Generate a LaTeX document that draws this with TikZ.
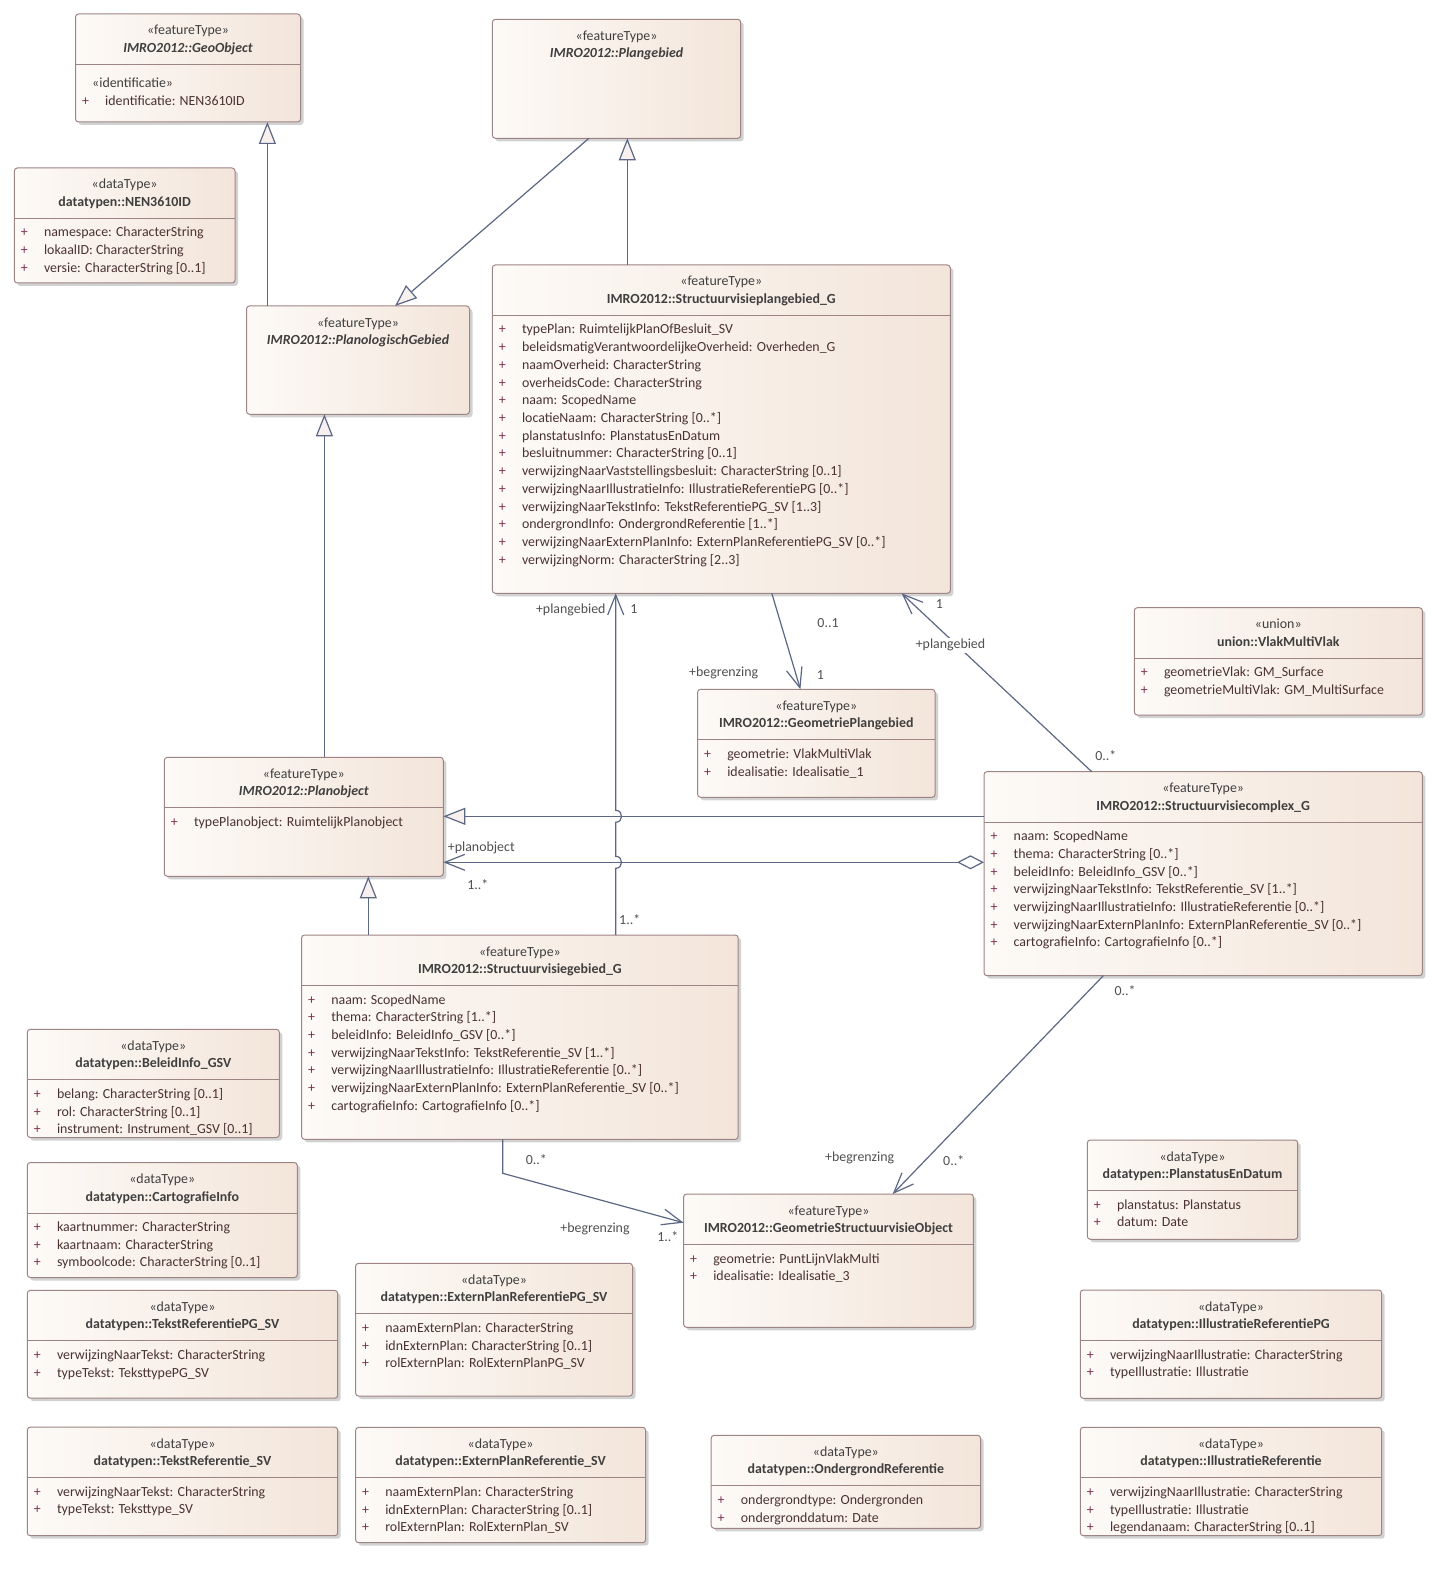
\documentclass[tikz,border=0pt]{standalone}
\usepackage{fontspec}
\setmainfont{Carlito}
\usetikzlibrary{arrows.meta,shadows,calc}
\definecolor{fillL}{HTML}{FDFAF7}
\definecolor{fillR}{HTML}{F3E5DA}
\definecolor{bordc}{HTML}{9E8585}
\definecolor{shadc}{HTML}{D2D2D2}
\definecolor{linec}{HTML}{5C6784}
\definecolor{txtc}{HTML}{3F3F3F}
\definecolor{attrc}{HTML}{4A3232}
\definecolor{plusc}{HTML}{7A3050}
\definecolor{lblc}{HTML}{505050}
\definecolor{genfill}{HTML}{F7F0EE}
\newcommand\fsz{\fontsize{13.9}{16}\selectfont}
\tikzset{
 umlbox/.style={draw=bordc, line width=1pt, rounded corners=3pt, left color=fillL, right color=fillR,
   drop shadow={shadow xshift=3pt, shadow yshift=-3pt, fill=shadc, opacity=1},
   inner sep=0pt, outer sep=0pt, anchor=north west},
 stereo/.style={inner sep=0pt, anchor=base, text=txtc, font=\fsz},
 ctitle/.style={inner sep=0pt, anchor=base, text=txtc, font=\fsz\bfseries},
 atitle/.style={inner sep=0pt, anchor=base, text=txtc, font=\fsz\bfseries\itshape},
 plusn/.style={inner sep=0pt, anchor=base, text=plusc, font=\fsz},
 attrn/.style={inner sep=0pt, anchor=base west, text=attrc, font=\fsz},
 divl/.style={draw=bordc, line width=1pt},
 conn/.style={draw=linec, line width=1.2pt},
 gen/.style={conn, -{Triangle[length=22pt,width=17pt,fill=genfill]}},
 nav/.style={conn, -{Straight Barb[length=20pt,width=16pt]}},
 lbl/.style={inner sep=0pt, anchor=base, text=lblc, font=\fsz},
}
\newcommand\umlclass[8]{%
  \node[umlbox, minimum width=#4pt-#2pt, minimum height=#5pt-#3pt] (#1) at (#2,#3) {};
  \node[stereo] (#1-st) at ({(#2+#4)/2},{#3+21}) {#6};
  \node[#8] (#1-ti) at ({(#2+#4)/2},{#3+38.5}) {#7};
}
\newcommand\umldiv[1]{\draw[divl] ([yshift=-50.5pt]#1.north west) -- ([yshift=-50.5pt]#1.north east);}
\newcommand\umlattrs[2]{%
  \foreach \atxt [count=\nn] in {#2} {
    \node[plusn] (#1-p\nn) at ([xshift=10pt,yshift=-69pt-17.7pt*\nn+17.7pt]#1.north west) {+};
    \node[attrn] (#1-a\nn) at ([xshift=29.5pt,yshift=-69pt-17.7pt*\nn+17.7pt]#1.north west) {\atxt};
  }
}
\begin{document}
\begin{tikzpicture}[x=1pt,y=-1pt]
\fill[white] (0,0) rectangle (1440,1586);
\useasboundingbox (0,0) rectangle (1440,1586);

% ---------- classes ----------
\umlclass{geo}{75.5}{14}{300.5}{122}{«featureType»}{IMRO2012::GeoObject}{atitle}
\umldiv{geo}
\node[stereo, anchor=base west] (geo-ist) at (92,87.5) {«identificatie»};
\node[plusn] (geo-p1) at (85.5,105.5) {+};
\node[attrn] (geo-a1) at (105,105.5) {identificatie: NEN3610ID};

\umlclass{nen}{14.3}{168}{235}{283}{«dataType»}{datatypen::NEN3610ID}{ctitle}
\umldiv{nen}
\umlattrs{nen}{{namespace: CharacterString},{lokaalID: CharacterString},{versie: CharacterString [0..1]}}

\umlclass{plg}{492.4}{19.3}{740.7}{138.3}{«featureType»}{IMRO2012::Plangebied}{atitle}
\umlclass{pgeb}{246.5}{306}{469.5}{414.3}{«featureType»}{IMRO2012::PlanologischGebied}{atitle}

\umlclass{svpg}{492.3}{265}{950.3}{593.3}{«featureType»}{IMRO2012::Structuurvisieplangebied\_G}{ctitle}
\umldiv{svpg}
\umlattrs{svpg}{{typePlan: RuimtelijkPlanOfBesluit\_SV},{beleidsmatigVerantwoordelijkeOverheid: Overheden\_G},{naamOverheid: CharacterString},{overheidsCode: CharacterString},{naam: ScopedName},{locatieNaam: CharacterString [0..*]},{planstatusInfo: PlanstatusEnDatum},{besluitnummer: CharacterString [0..1]},{verwijzingNaarVaststellingsbesluit: CharacterString [0..1]},{verwijzingNaarIllustratieInfo: IllustratieReferentiePG [0..*]},{verwijzingNaarTekstInfo: TekstReferentiePG\_SV [1..3]},{ondergrondInfo: OndergrondReferentie [1..*]},{verwijzingNaarExternPlanInfo: ExternPlanReferentiePG\_SV [0..*]},{verwijzingNorm: CharacterString [2..3]}}

\umlclass{gpg}{697.6}{689.3}{935}{797.3}{«featureType»}{IMRO2012::GeometriePlangebied}{ctitle}
\umldiv{gpg}
\umlattrs{gpg}{{geometrie: VlakMultiVlak},{idealisatie: Idealisatie\_1}}

\umlclass{vmv}{1134.3}{607.7}{1422.3}{715}{«union»}{union::VlakMultiVlak}{ctitle}
\umldiv{vmv}
\umlattrs{vmv}{{geometrieVlak: GM\_Surface},{geometrieMultiVlak: GM\_MultiSurface}}

\umlclass{svc}{984}{771.7}{1422.3}{975.7}{«featureType»}{IMRO2012::Structuurvisiecomplex\_G}{ctitle}
\umldiv{svc}
\umlattrs{svc}{{naam: ScopedName},{thema: CharacterString [0..*]},{beleidInfo: BeleidInfo\_GSV [0..*]},{verwijzingNaarTekstInfo: TekstReferentie\_SV [1..*]},{verwijzingNaarIllustratieInfo: IllustratieReferentie [0..*]},{verwijzingNaarExternPlanInfo: ExternPlanReferentie\_SV [0..*]},{cartografieInfo: CartografieInfo [0..*]}}

\umlclass{po}{164.3}{757.3}{443.3}{876.3}{«featureType»}{IMRO2012::Planobject}{atitle}
\umldiv{po}
\umlattrs{po}{{typePlanobject: RuimtelijkPlanobject}}

\umlclass{svg}{301.6}{935}{738.2}{1139.3}{«featureType»}{IMRO2012::Structuurvisiegebied\_G}{ctitle}
\umldiv{svg}
\umlattrs{svg}{{naam: ScopedName},{thema: CharacterString [1..*]},{beleidInfo: BeleidInfo\_GSV [0..*]},{verwijzingNaarTekstInfo: TekstReferentie\_SV [1..*]},{verwijzingNaarIllustratieInfo: IllustratieReferentie [0..*]},{verwijzingNaarExternPlanInfo: ExternPlanReferentie\_SV [0..*]},{cartografieInfo: CartografieInfo [0..*]}}

\umlclass{gso}{683.6}{1194}{973.4}{1327.3}{«featureType»}{IMRO2012::GeometrieStructuurvisieObject}{ctitle}
\umldiv{gso}
\umlattrs{gso}{{geometrie: PuntLijnVlakMulti},{idealisatie: Idealisatie\_3}}

\umlclass{bel}{27.3}{1029.3}{279.3}{1137.5}{«dataType»}{datatypen::BeleidInfo\_GSV}{ctitle}
\umldiv{bel}
\umlattrs{bel}{{belang: CharacterString [0..1]},{rol: CharacterString [0..1]},{instrument: Instrument\_GSV [0..1]}}

\umlclass{carto}{27.3}{1162.5}{297.3}{1277.5}{«dataType»}{datatypen::CartografieInfo}{ctitle}
\umldiv{carto}
\umlattrs{carto}{{kaartnummer: CharacterString},{kaartnaam: CharacterString},{symboolcode: CharacterString [0..1]}}

\umlclass{tpg}{27.3}{1290.4}{337.7}{1398.2}{«dataType»}{datatypen::TekstReferentiePG\_SV}{ctitle}
\umldiv{tpg}
\umlattrs{tpg}{{verwijzingNaarTekst: CharacterString},{typeTekst: TeksttypePG\_SV}}

\umlclass{tsv}{27.3}{1427.1}{337.7}{1535.7}{«dataType»}{datatypen::TekstReferentie\_SV}{ctitle}
\umldiv{tsv}
\umlattrs{tsv}{{verwijzingNaarTekst: CharacterString},{typeTekst: Teksttype\_SV}}

\umlclass{epg}{355.6}{1263.3}{632.5}{1396}{«dataType»}{datatypen::ExternPlanReferentiePG\_SV}{ctitle}
\umldiv{epg}
\umlattrs{epg}{{naamExternPlan: CharacterString},{idnExternPlan: CharacterString [0..1]},{rolExternPlan: RolExternPlanPG\_SV}}

\umlclass{esv}{355.6}{1427.3}{645.6}{1542.7}{«dataType»}{datatypen::ExternPlanReferentie\_SV}{ctitle}
\umldiv{esv}
\umlattrs{esv}{{naamExternPlan: CharacterString},{idnExternPlan: CharacterString [0..1]},{rolExternPlan: RolExternPlan\_SV}}

\umlclass{ogr}{711.2}{1435.3}{980.6}{1528.3}{«dataType»}{datatypen::OndergrondReferentie}{ctitle}
\umldiv{ogr}
\umlattrs{ogr}{{ondergrondtype: Ondergronden},{ondergronddatum: Date}}

\umlclass{psd}{1087.3}{1140}{1297.7}{1239.3}{«dataType»}{datatypen::PlanstatusEnDatum}{ctitle}
\umldiv{psd}
\umlattrs{psd}{{planstatus: Planstatus},{datum: Date}}

\umlclass{irpg}{1080.3}{1290}{1381.7}{1398.3}{«dataType»}{datatypen::IllustratieReferentiePG}{ctitle}
\umldiv{irpg}
\umlattrs{irpg}{{verwijzingNaarIllustratie: CharacterString},{typeIllustratie: Illustratie}}

\umlclass{ir}{1080.3}{1427.3}{1381.7}{1535.7}{«dataType»}{datatypen::IllustratieReferentie}{ctitle}
\umldiv{ir}
\umlattrs{ir}{{verwijzingNaarIllustratie: CharacterString},{typeIllustratie: Illustratie},{legendanaam: CharacterString [0..1]}}

% ---------- generalizations ----------
\draw[gen] (pgeb.north -| 267.4,0) -- (geo.south -| 267.4,0);
\draw[gen] (plg.south -| 588.9,0) -- (pgeb.north -| 395,0);
\draw[gen] (svpg.north -| 627.3,0) -- (plg.south -| 627.3,0);
\draw[gen] (po.north -| 324.4,0) -- (pgeb.south -| 324.4,0);
\draw[gen] (svg.north -| 368.3,0) -- (po.south -| 368.3,0);
\draw[gen] (svc.west |- 0,816.3) -- (po.east |- 0,816.3);

% ---------- associations ----------
\draw[conn, {Diamond[length=27pt,width=14pt,fill=white]}-{Straight Barb[length=20pt,width=16pt]}] (svc.west |- 0,862.3) -- (po.east |- 0,862.3);
\draw[nav] (svg.north -| 615.7,0) -- (615.7,868.3) .. controls (623.5,868.3) and (623.5,856.3) .. (615.7,856.3) -- (615.7,822.3) .. controls (623.5,822.3) and (623.5,810.3) .. (615.7,810.3) -- (svpg.south -| 615.7,0);
\draw[nav] (svpg.south -| 771.8,0) -- (gpg.north -| 800.4,0);
\draw[nav] (svc.north -| 1091.7,0) -- (svpg.south -| 901.6,0);
\draw[nav] (svc.south -| 1103.3,0) -- (gso.north -| 892.7,0);
\draw[nav] (svg.south -| 502.7,0) -- (502.7,1173.3) -- (gso.west |- 0,1222.7);

% ---------- labels ----------
\node[lbl, anchor=base east] (l1) at (605.7,613.8) {+plangebied};
\node[lbl] (l2) at (634,613.8) {1};
\node[lbl] (l3) at (828,627.8) {0..1};
\node[lbl] (l4) at (723.7,676.2) {+begrenzing};
\node[lbl] (l5) at (820.3,679.2) {1};
\node[lbl, fill=white, inner sep=1pt] (l6) at (939.5,608) {1};
\node[lbl, fill=white, inner sep=1.5pt] (l7) at (950.5,648.8) {+plangebied};
\node[lbl] (l8) at (1105.8,760.2) {0..*};
\node[lbl, anchor=base west] (l9) at (447.7,851.2) {+planobject};
\node[lbl] (l10) at (477.8,889.5) {1..*};
\node[lbl] (l11) at (629.7,924.5) {1..*};
\node[lbl] (l12) at (1125,995.5) {0..*};
\node[lbl] (l13) at (859.7,1161.2) {+begrenzing};
\node[lbl] (l14) at (953.7,1165.5) {0..*};
\node[lbl] (l15) at (536.3,1164.5) {0..*};
\node[lbl] (l16) at (595,1232.2) {+begrenzing};
\node[lbl] (l17) at (667.8,1241.8) {1..*};
\end{tikzpicture}
\end{document}
